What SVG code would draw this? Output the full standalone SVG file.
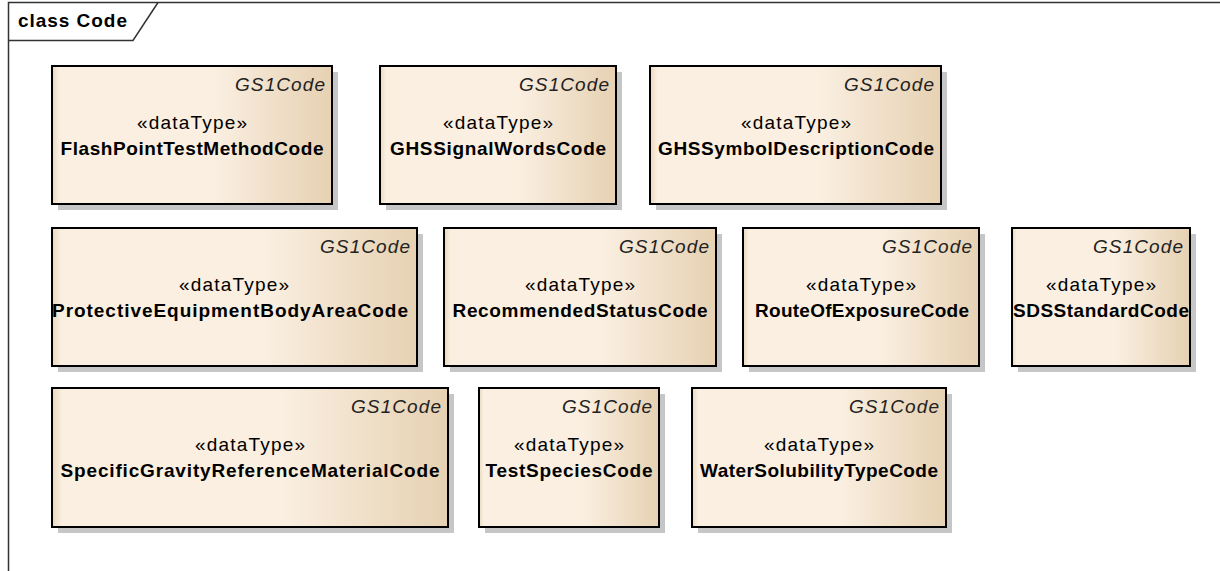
<svg xmlns="http://www.w3.org/2000/svg" width="1220" height="571" viewBox="0 0 1220 571">
<style>
.frame{fill:none;stroke:#333;stroke-width:1.5}
.shadow{fill:#c6c6c6}
.box{fill:url(#fill);stroke:#000;stroke-width:2}
.t{font-family:"Liberation Sans",Arial,sans-serif;font-size:19px;fill:#000}
.pkg{font-style:italic;text-anchor:end;fill:#222}
.st{text-anchor:middle}
.nm{text-anchor:middle;font-weight:bold}
.title{font-weight:bold}
</style>
<defs>
<linearGradient id="fill" x1="0" y1="0" x2="1" y2="0">
<stop offset="0" stop-color="#e9d8bd"/>
<stop offset="0.025" stop-color="#faefe0"/>
<stop offset="0.58" stop-color="#faefe1"/>
<stop offset="1" stop-color="#e6d1b2"/>
</linearGradient>
</defs>
<rect width="1220" height="571" fill="#fff"/>
<g id="frame">
<path class="frame" d="M8.5,571 V2.5 H1220"/>
<path class="frame" d="M8.5,40.5 H133 L158,2.5"/>
<text class="t title" x="18" y="27" textLength="109" lengthAdjust="spacing">class Code</text>
</g>
<g id="connectors"/>
<g id="FlashPointTestMethodCode">
<rect class="shadow" x="58" y="72" width="280" height="138"/>
<rect class="box" x="52" y="66" width="280" height="138"/>
<text class="t pkg" x="325" y="91" textLength="90" lengthAdjust="spacing">GS1Code</text>
<text class="t st" x="192" y="129" textLength="110" lengthAdjust="spacing">«dataType»</text>
<text class="t nm" x="192" y="155" textLength="263" lengthAdjust="spacing">FlashPointTestMethodCode</text>
</g>
<g id="GHSSignalWordsCode">
<rect class="shadow" x="386" y="72" width="236" height="138"/>
<rect class="box" x="380" y="66" width="236" height="138"/>
<text class="t pkg" x="609" y="91" textLength="90" lengthAdjust="spacing">GS1Code</text>
<text class="t st" x="498" y="129" textLength="110" lengthAdjust="spacing">«dataType»</text>
<text class="t nm" x="498" y="155" textLength="216" lengthAdjust="spacing">GHSSignalWordsCode</text>
</g>
<g id="GHSSymbolDescriptionCode">
<rect class="shadow" x="656" y="72" width="291" height="138"/>
<rect class="box" x="650" y="66" width="291" height="138"/>
<text class="t pkg" x="934" y="91" textLength="90" lengthAdjust="spacing">GS1Code</text>
<text class="t st" x="796" y="129" textLength="110" lengthAdjust="spacing">«dataType»</text>
<text class="t nm" x="796" y="155" textLength="276" lengthAdjust="spacing">GHSSymbolDescriptionCode</text>
</g>
<g id="ProtectiveEquipmentBodyAreaCode">
<rect class="shadow" x="58" y="234" width="365" height="138"/>
<rect class="box" x="52" y="228" width="365" height="138"/>
<text class="t pkg" x="410" y="253" textLength="90" lengthAdjust="spacing">GS1Code</text>
<text class="t st" x="234" y="291" textLength="110" lengthAdjust="spacing">«dataType»</text>
<text class="t nm" x="230" y="317" textLength="356" lengthAdjust="spacing">ProtectiveEquipmentBodyAreaCode</text>
</g>
<g id="RecommendedStatusCode">
<rect class="shadow" x="450" y="234" width="272" height="138"/>
<rect class="box" x="444" y="228" width="272" height="138"/>
<text class="t pkg" x="709" y="253" textLength="90" lengthAdjust="spacing">GS1Code</text>
<text class="t st" x="580" y="291" textLength="110" lengthAdjust="spacing">«dataType»</text>
<text class="t nm" x="580" y="317" textLength="255" lengthAdjust="spacing">RecommendedStatusCode</text>
</g>
<g id="RouteOfExposureCode">
<rect class="shadow" x="749" y="234" width="236" height="138"/>
<rect class="box" x="743" y="228" width="236" height="138"/>
<text class="t pkg" x="972" y="253" textLength="90" lengthAdjust="spacing">GS1Code</text>
<text class="t st" x="861" y="291" textLength="110" lengthAdjust="spacing">«dataType»</text>
<text class="t nm" x="862" y="317" textLength="214" lengthAdjust="spacing">RouteOfExposureCode</text>
</g>
<g id="SDSStandardCode">
<rect class="shadow" x="1018" y="234" width="178" height="138"/>
<rect class="box" x="1012" y="228" width="178" height="138"/>
<text class="t pkg" x="1183" y="253" textLength="90" lengthAdjust="spacing">GS1Code</text>
<text class="t st" x="1101" y="291" textLength="110" lengthAdjust="spacing">«dataType»</text>
<text class="t nm" x="1101" y="317" textLength="176" lengthAdjust="spacing">SDSStandardCode</text>
</g>
<g id="SpecificGravityReferenceMaterialCode">
<rect class="shadow" x="58" y="394" width="396" height="139"/>
<rect class="box" x="52" y="388" width="396" height="139"/>
<text class="t pkg" x="441" y="413" textLength="90" lengthAdjust="spacing">GS1Code</text>
<text class="t st" x="250" y="451" textLength="110" lengthAdjust="spacing">«dataType»</text>
<text class="t nm" x="250" y="477" textLength="379" lengthAdjust="spacing">SpecificGravityReferenceMaterialCode</text>
</g>
<g id="TestSpeciesCode">
<rect class="shadow" x="485" y="394" width="180" height="139"/>
<rect class="box" x="479" y="388" width="180" height="139"/>
<text class="t pkg" x="652" y="413" textLength="90" lengthAdjust="spacing">GS1Code</text>
<text class="t st" x="569" y="451" textLength="110" lengthAdjust="spacing">«dataType»</text>
<text class="t nm" x="569" y="477" textLength="167" lengthAdjust="spacing">TestSpeciesCode</text>
</g>
<g id="WaterSolubilityTypeCode">
<rect class="shadow" x="698" y="394" width="254" height="139"/>
<rect class="box" x="692" y="388" width="254" height="139"/>
<text class="t pkg" x="939" y="413" textLength="90" lengthAdjust="spacing">GS1Code</text>
<text class="t st" x="819" y="451" textLength="110" lengthAdjust="spacing">«dataType»</text>
<text class="t nm" x="819" y="477" textLength="238" lengthAdjust="spacing">WaterSolubilityTypeCode</text>
</g>
</svg>
